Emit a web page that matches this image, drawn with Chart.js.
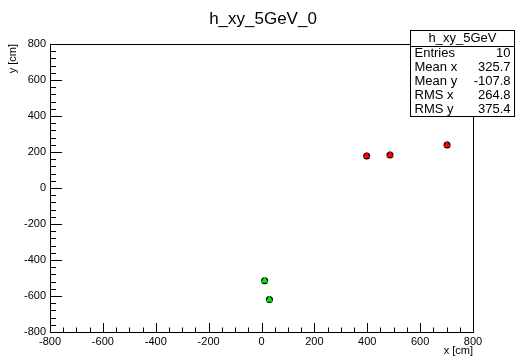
<!DOCTYPE html>
<html>
<head>
<meta charset="utf-8">
<script src="https://cdn.jsdelivr.net/npm/chart.js@4/dist/chart.umd.min.js"></script>
<style>
  html, body { margin: 0; padding: 0; background: #fff; }
  #wrap { width: 516px; height: 356px; }
</style>
</head>
<body>
<div id="wrap"><canvas id="myChart" width="516" height="356"></canvas></div>
<script>
(() => {
  'use strict'

  // pontos (x, y) em cm
  const redX = [398, 486, 702]
  const redY = [178, 183, 239]
  const greenX = [12, 30]
  const greenY = [-515, -620]

  const xTicks = [-800, -600, -400, -200, 0, 200, 400, 600, 800]
  const yTicks = [-800, -600, -400, -200, 0, 200, 400, 600, 800]

  const statsTitle = 'h_xy_5GeV'
  const statsLabels = ['Entries', 'Mean x', 'Mean y', 'RMS x', 'RMS y']
  const statsValues = ['10', '325.7', '-107.8', '264.8', '375.4']

  const FONT = '"Liberation Sans", Arial, sans-serif'

  const toPoints = (xs, ys) => xs.map((x, i) => ({ x: x, y: ys[i] }))
  const allX = redX.concat(greenX)
  const allY = redY.concat(greenY)

  // moldura, marcas internas, título e caixa de estatísticas (estilo ROOT)
  const rootStyle = {
    id: 'rootStyle',
    afterDraw (chart) {
      const c = chart.ctx
      const a = chart.chartArea
      const xs = chart.scales.x
      const ys = chart.scales.y
      c.save()
      c.strokeStyle = '#000'
      c.lineWidth = 1
      c.strokeRect(Math.round(a.left) + 0.5, Math.round(a.top) + 0.5,
        Math.round(a.right - a.left), Math.round(a.bottom - a.top))

      c.beginPath()
      for (let v = -800; v <= 800; v += 50) {
        const px = Math.round(xs.getPixelForValue(v)) + 0.5
        const len = v % 200 === 0 ? 9 : 4.5
        c.moveTo(px, a.bottom)
        c.lineTo(px, a.bottom - len)
      }
      for (let v = -800; v <= 800; v += 40) {
        const py = Math.round(ys.getPixelForValue(v)) + 0.5
        const len = v % 200 === 0 ? 12 : 6
        c.moveTo(a.left, py)
        c.lineTo(a.left + len, py)
      }
      c.stroke()

      // título
      c.fillStyle = '#000'
      c.font = '17px ' + FONT
      c.textAlign = 'center'
      c.textBaseline = 'middle'
      c.fillText('h_xy_5GeV_0', 263, 19)

      // títulos dos eixos
      c.font = '11px ' + FONT
      c.textAlign = 'right'
      c.textBaseline = 'alphabetic'
      c.fillText('x [cm]', a.right, 354)
      c.save()
      c.translate(16, a.top)
      c.rotate(-Math.PI / 2)
      c.textAlign = 'right'
      c.fillText('y [cm]', 0, 0)
      c.restore()

      // caixa de estatísticas
      const bx = 410.5, by = 30.5, bw = 104, bh = 86
      c.fillStyle = '#fff'
      c.fillRect(bx, by, bw, bh)
      c.strokeRect(bx, by, bw, bh)
      c.beginPath()
      c.moveTo(bx, by + 16)
      c.lineTo(bx + bw, by + 16)
      c.stroke()
      c.fillStyle = '#000'
      c.font = '13px ' + FONT
      c.textBaseline = 'middle'
      c.textAlign = 'center'
      c.fillText(statsTitle, bx + bw / 2, by + 8)
      statsLabels.forEach((lab, i) => {
        const ty = by + 23 + i * 14
        c.textAlign = 'left'
        c.fillText(lab, bx + 4, ty)
        c.textAlign = 'right'
        c.fillText(statsValues[i], bx + bw - 4, ty)
      })
      c.restore()
    }
  }

  const ctx = document.getElementById('myChart')

  new Chart(ctx, {
    type: 'scatter',
    data: {
      datasets: [
        {
          label: 'todos',
          data: toPoints(allX, allY),
          order: 3, // desenhado por baixo
          pointStyle: 'circle',
          pointRadius: 3.5,
          backgroundColor: '#000',
          borderColor: '#000',
          borderWidth: 0
        },
        {
          label: 'vermelho',
          data: toPoints(redX, redY),
          order: 1,
          pointStyle: 'triangle',
          pointRadius: 4.2,
          backgroundColor: '#ff0000',
          borderColor: '#ff0000',
          borderWidth: 0
        },
        {
          label: 'verde',
          data: toPoints(greenX, greenY),
          order: 1,
          pointStyle: 'triangle',
          pointRadius: 4.2,
          backgroundColor: '#00ee00',
          borderColor: '#00ee00',
          borderWidth: 0
        }
      ]
    },
    options: {
      responsive: false,
      animation: false,
      events: [],
      layout: { padding: { top: 44, right: 43, left: 0, bottom: 0 } },
      plugins: {
        legend: { display: false },
        title: { display: false },
        tooltip: { enabled: false }
      },
      scales: {
        x: {
          type: 'linear',
          min: -800,
          max: 800,
          afterBuildTicks: (s) => { s.ticks = xTicks.map(v => ({ value: v })) },
          afterFit: (s) => { s.height = 24 },
          grid: { display: false, drawTicks: false },
          border: { display: false },
          ticks: {
            color: '#000',
            padding: 3,
            maxRotation: 0,
            autoSkip: false,
            font: { family: FONT, size: 11 }
          }
        },
        y: {
          type: 'linear',
          min: -800,
          max: 800,
          afterBuildTicks: (s) => { s.ticks = yTicks.map(v => ({ value: v })) },
          afterFit: (s) => { s.width = 50 },
          grid: { display: false, drawTicks: false },
          border: { display: false },
          ticks: {
            color: '#000',
            padding: 4,
            autoSkip: false,
            font: { family: FONT, size: 11 }
          }
        }
      }
    },
    plugins: [rootStyle]
  })
})()
</script>
</body>
</html>
